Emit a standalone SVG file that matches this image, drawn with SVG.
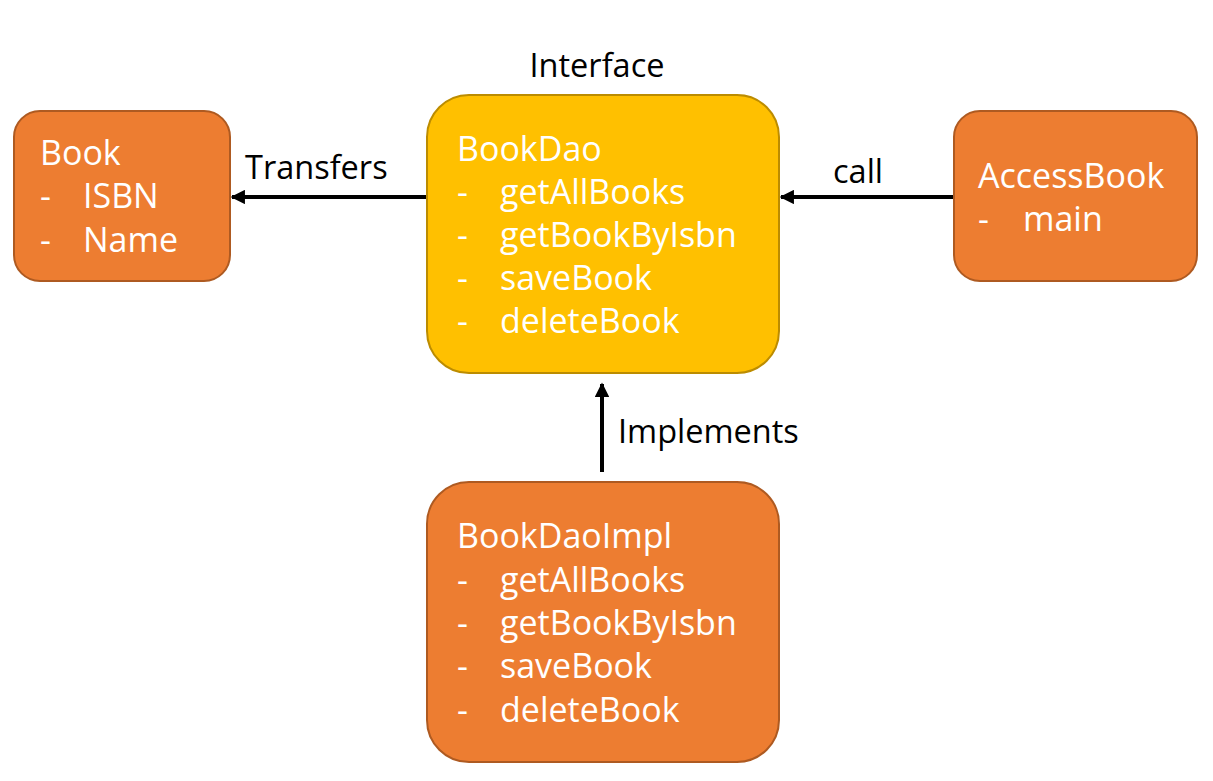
<svg xmlns="http://www.w3.org/2000/svg" width="1213" height="781" viewBox="0 0 1213 781">
<defs>
<style>
.orange{fill:#ED7D31;stroke:#AE5A21;stroke-width:2}
.yellow{fill:#FFC000;stroke:#BC8C00;stroke-width:2}
.nt{font-family:"Open Sans","Liberation Sans",sans-serif;font-size:34px;fill:#FFFFFF}
.lbl{font-family:"Open Sans","Liberation Sans",sans-serif;font-size:32.5px;fill:#000000}
.conn{stroke:#000000;stroke-width:4;fill:none;marker-end:url(#arr)}
</style>
<marker id="arr" viewBox="0 0 10 10" refX="9" refY="5" markerWidth="4" markerHeight="3.6" orient="auto" markerUnits="strokeWidth">
<path d="M0,0 L10,5 L0,10 z" fill="#000000"/>
</marker>
</defs>
<rect width="1213" height="781" fill="#FFFFFF"/>
<g id="connectors">
<line class="conn" x1="427" y1="197" x2="232" y2="197"/>
<line class="conn" x1="954" y1="197" x2="781" y2="197"/>
<line class="conn" x1="602" y1="472" x2="602" y2="384"/>
<text class="lbl" x="245" y="179">Transfers</text>
<text class="lbl" x="833" y="183">call</text>
<text class="lbl" x="618" y="443">Implements</text>
</g>
<g id="book">
<rect class="orange" x="14" y="111" width="216" height="170" rx="26"/>
<text class="nt" x="40" y="165">Book</text>
<text class="nt" x="40" y="208">-</text><text class="nt" x="83" y="208">ISBN</text>
<text class="nt" x="40" y="252">-</text><text class="nt" x="83" y="252">Name</text>
</g>
<g id="bookdao">
<text class="lbl" x="597" y="77" text-anchor="middle">Interface</text>
<rect class="yellow" x="427" y="95" width="352" height="278" rx="42"/>
<text class="nt" x="457" y="161">BookDao</text>
<text class="nt" x="457" y="204">-</text><text class="nt" x="500" y="204">getAllBooks</text>
<text class="nt" x="457" y="247">-</text><text class="nt" x="500" y="247">getBookByIsbn</text>
<text class="nt" x="457" y="290">-</text><text class="nt" x="500" y="290">saveBook</text>
<text class="nt" x="457" y="333">-</text><text class="nt" x="500" y="333">deleteBook</text>
</g>
<g id="accessbook">
<rect class="orange" x="954" y="111" width="243" height="170" rx="26"/>
<text class="nt" x="978" y="188">AccessBook</text>
<text class="nt" x="978" y="231">-</text><text class="nt" x="1023" y="231">main</text>
</g>
<g id="bookdaoimpl">
<rect class="orange" x="427" y="482" width="352" height="280" rx="42"/>
<text class="nt" x="457" y="548">BookDaoImpl</text>
<text class="nt" x="457" y="592">-</text><text class="nt" x="500" y="592">getAllBooks</text>
<text class="nt" x="457" y="635">-</text><text class="nt" x="500" y="635">getBookByIsbn</text>
<text class="nt" x="457" y="678">-</text><text class="nt" x="500" y="678">saveBook</text>
<text class="nt" x="457" y="722">-</text><text class="nt" x="500" y="722">deleteBook</text>
</g>
</svg>
